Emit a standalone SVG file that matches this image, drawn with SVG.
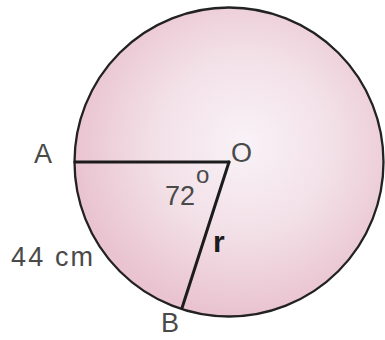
<svg xmlns="http://www.w3.org/2000/svg" width="385" height="340" viewBox="0 0 385 340">
<defs>
<radialGradient id="pink" cx="0.55" cy="0.44" r="0.56">
<stop offset="0" stop-color="#f8f2f6"/>
<stop offset="0.5" stop-color="#f3e1e8"/>
<stop offset="1" stop-color="#e9c3cf"/>
</radialGradient>
</defs>
<style>
.lbl{font-family:"Liberation Sans",Arial,sans-serif;fill:#4a4a4a;font-size:27px}
.rad{stroke:#1c1c1c;stroke-width:3;fill:none;stroke-linecap:round}
</style>
<rect width="385" height="340" fill="#ffffff"/>
<g id="circle">
<circle cx="229" cy="162" r="154.5" fill="url(#pink)" stroke="#222222" stroke-width="2.3"/>
</g>
<g id="connectors">
<line class="rad" x1="75" y1="162" x2="229" y2="162"/>
<line class="rad" x1="229" y1="162" x2="182" y2="308"/>
</g>
<g id="labels">
<text class="lbl" x="34" y="163">A</text>
<text class="lbl" x="231" y="162">O</text>
<text class="lbl" x="165" y="205">72</text>
<text class="lbl" x="196" y="183" style="font-size:24px">o</text>
<text class="lbl" x="11" y="266" textLength="82" lengthAdjust="spacing">44 cm</text>
<text class="lbl" x="213" y="252" style="font-weight:bold;fill:#1c1c1c;font-size:30px">r</text>
<text class="lbl" x="161" y="332">B</text>
</g>
</svg>
